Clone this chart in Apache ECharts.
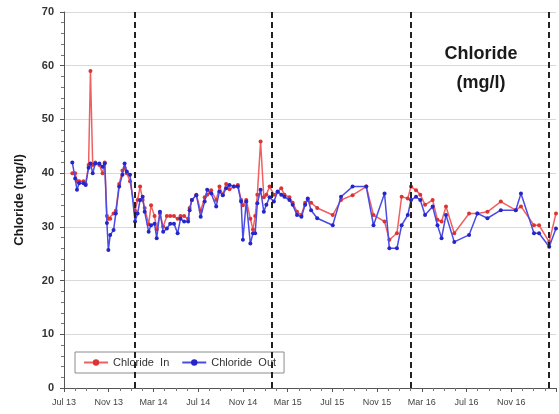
<!DOCTYPE html>
<html>
<head>
<meta charset="utf-8">
<script src="https://cdn.jsdelivr.net/npm/echarts@6/dist/echarts.min.js"></script>
<style>
html,body{margin:0;padding:0;background:#fff;}
#chart{width:559px;height:414px;}
</style>
</head>
<body>
<div id="chart"></div>
<script>
// ---- data ----
const sampleDates = [
  '2013-07-24','2013-08-01','2013-08-06','2013-08-12','2013-08-24','2013-08-30','2013-09-07','2013-09-12',
  '2013-09-18','2013-09-25','2013-10-06','2013-10-15','2013-10-21','2013-10-27','2013-10-31','2013-11-05',
  '2013-11-14','2013-11-20','2013-11-29','2013-12-08','2013-12-14','2013-12-20','2013-12-29',
  '2014-01-12','2014-01-19','2014-01-26','2014-02-02','2014-02-07','2014-02-17','2014-02-23','2014-03-04',
  '2014-03-10','2014-03-19','2014-03-28','2014-04-07','2014-04-16','2014-04-26','2014-05-06','2014-05-14',
  '2014-05-24','2014-06-04','2014-06-08','2014-06-14','2014-06-26','2014-07-08','2014-07-19','2014-07-26',
  '2014-08-06','2014-08-20','2014-08-29','2014-09-07','2014-09-16','2014-09-25','2014-10-07','2014-10-18',
  '2014-10-27','2014-11-01','2014-11-10','2014-11-21','2014-11-28','2014-12-04','2014-12-10','2014-12-19',
  '2014-12-28','2015-01-04','2015-01-13',
  '2015-01-25','2015-02-04','2015-02-13','2015-02-21','2015-03-06','2015-03-15','2015-03-27','2015-04-08',
  '2015-04-18','2015-04-25','2015-05-04','2015-05-21','2015-07-02','2015-07-25','2015-08-26','2015-10-02',
  '2015-10-22','2015-11-21','2015-12-04','2015-12-25','2016-01-07','2016-01-24','2016-02-02',
  '2016-02-15','2016-02-26','2016-03-10','2016-03-31','2016-04-13','2016-04-24','2016-05-06','2016-05-29',
  '2016-07-08','2016-07-31','2016-08-28','2016-10-03','2016-11-13','2016-11-27','2017-01-02','2017-01-16',
  '2017-02-12','2017-03-01'
];
const chlorideIn = [
  40.0,40.0,38.5,38.5,38.5,38.0,41.5,59.0,
  41.5,42.0,41.5,40.0,42.0,32.0,31.5,31.5,
  32.5,33.0,38.0,40.5,41.0,40.0,38.5,
  33.0,35.0,37.5,35.0,33.5,30.5,34.0,32.0,
  29.5,32.5,30.0,32.0,32.0,32.0,31.5,32.0,
  32.0,31.5,33.5,35.0,36.0,33.0,35.5,36.0,
  36.8,35.0,37.5,36.0,38.0,37.0,37.5,37.8,
  35.0,34.0,35.0,31.5,29.5,32.0,36.0,45.9,
  35.5,36.0,37.5,
  36.0,36.5,37.2,36.0,35.5,34.5,32.8,32.2,
  34.5,35.0,34.5,33.5,32.2,35.0,35.9,37.5,
  32.2,31.0,27.6,28.8,35.6,35.3,37.5,
  36.8,36.0,34.1,35.0,31.3,31.0,33.8,28.8,
  32.5,32.5,32.8,34.7,33.1,33.8,30.3,30.3,
  27.2,32.5
];
const chlorideOut = [
  42.0,39.0,36.9,38.1,38.1,37.8,41.0,41.8,
  40.0,41.8,41.8,41.2,41.8,30.7,25.7,28.5,
  29.4,32.5,37.5,39.7,41.8,40.3,39.7,
  31.0,32.5,35.0,35.6,32.8,29.1,30.3,30.6,
  27.9,32.8,29.1,29.7,30.6,30.6,28.8,31.5,
  31.0,31.0,33.1,35.0,35.9,31.9,34.7,36.9,
  36.2,33.8,36.6,35.9,37.2,37.8,37.5,37.5,
  34.7,27.6,34.7,26.9,28.8,28.8,34.4,36.9,
  32.8,34.1,35.5,
  34.7,36.6,36.0,35.6,35.0,34.1,32.2,31.9,
  34.1,35.3,33.1,31.6,30.3,35.6,37.5,37.5,
  30.3,36.2,26.0,26.0,30.3,32.2,35.0,
  35.6,35.0,32.2,33.8,30.3,27.9,32.2,27.2,
  28.5,32.5,31.6,33.1,33.1,36.2,28.8,28.8,
  26.3,29.7
];
const yearMarkerDates = ['2014-01-11','2015-01-18','2016-02-01','2017-02-12'];
const xTickLabels = ['Jul 13','Nov 13','Mar 14','Jul 14','Nov 14','Mar 15','Jul 15','Nov 15','Mar 16','Jul 16','Nov 16',''];
const yTickValues = [0,10,20,30,40,50,60,70];

// months elapsed since 1 Jul 2013 (axis unit)
function monthsSince(d){
  const [y,m,day] = d.split('-').map(Number);
  const dim = new Date(Date.UTC(y, m, 0)).getUTCDate();
  return (y-2013)*12 + (m-7) + (day-1)/dim;
}
const inData = sampleDates.map((d,i)=>[monthsSince(d), chlorideIn[i]]);
const outData = sampleDates.map((d,i)=>[monthsSince(d), chlorideOut[i]]);

const FONT = '"Liberation Sans", Arial, sans-serif';
const chart = echarts.init(document.getElementById('chart'), null, {renderer:'canvas'});
chart.setOption({
  animation:false,
  backgroundColor:'#ffffff',
  textStyle:{fontFamily:FONT},
  grid:{left:64, right:2, top:12, bottom:26, containLabel:false},
  graphic:[{
    type:'text', x:481, y:40,
    style:{text:'Chloride\n(mg/l)', font:'bold 18px '+FONT, lineHeight:29, textAlign:'center', textVerticalAlign:'top', fill:'#1a1a1a'}
  }],
  legend:{
    left:75, top:352, width:206,
    itemGap:12, itemWidth:24, itemHeight:8,
    padding:[5,8,5,8],
    borderColor:'#8c8c8c', borderWidth:1, backgroundColor:'#fff',
    textStyle:{fontSize:11, color:'#333', fontFamily:FONT},
    data:['Chloride  In','Chloride  Out']
  },
  xAxis:{
    type:'value', min:0, max:44, interval:4,
    axisLine:{show:true, onZero:false, lineStyle:{color:'#555', width:1}},
    axisTick:{show:true, length:4, lineStyle:{color:'#555'}},
    minorTick:{show:true, splitNumber:4, length:3, lineStyle:{color:'#777'}},
    splitLine:{show:false},
    axisLabel:{fontSize:9, color:'#444', margin:10, fontFamily:FONT,
      formatter:function(v){ return xTickLabels[Math.round(v/4)] || ''; }}
  },
  yAxis:{
    type:'value', min:yTickValues[0], max:yTickValues[yTickValues.length-1], interval:10,
    name:'Chloride (mg/l)', nameLocation:'middle', nameGap:38, nameRotate:90,
    nameTextStyle:{fontSize:13, fontWeight:'bold', color:'#1a1a1a', fontFamily:FONT},
    axisLine:{show:true, lineStyle:{color:'#555', width:1}},
    axisTick:{show:true, length:4, lineStyle:{color:'#555'}},
    minorTick:{show:true, splitNumber:5, length:3, lineStyle:{color:'#777'}},
    splitLine:{show:true, lineStyle:{color:'#d9d9d9', width:1}},
    axisLabel:{fontSize:11, fontWeight:'bold', color:'#333', margin:10, fontFamily:FONT}
  },
  series:[
    {
      name:'Chloride  In', type:'line', data:inData,
      symbol:'circle', symbolSize:4, showSymbol:true,
      lineStyle:{color:'#f06060', width:1.5},
      itemStyle:{color:'#dd3333'},
      z:2,
      markLine:{
        silent:true, symbol:['none','none'], label:{show:false},
        lineStyle:{color:'#222', width:2, type:[6,4]},
        data: yearMarkerDates.map(d=>({xAxis: monthsSince(d)}))
      }
    },
    {
      name:'Chloride  Out', type:'line', data:outData,
      symbol:'circle', symbolSize:4, showSymbol:true,
      lineStyle:{color:'#4a4ae6', width:1.5},
      itemStyle:{color:'#2525c8'},
      z:3
    }
  ]
});
</script>
</body>
</html>
